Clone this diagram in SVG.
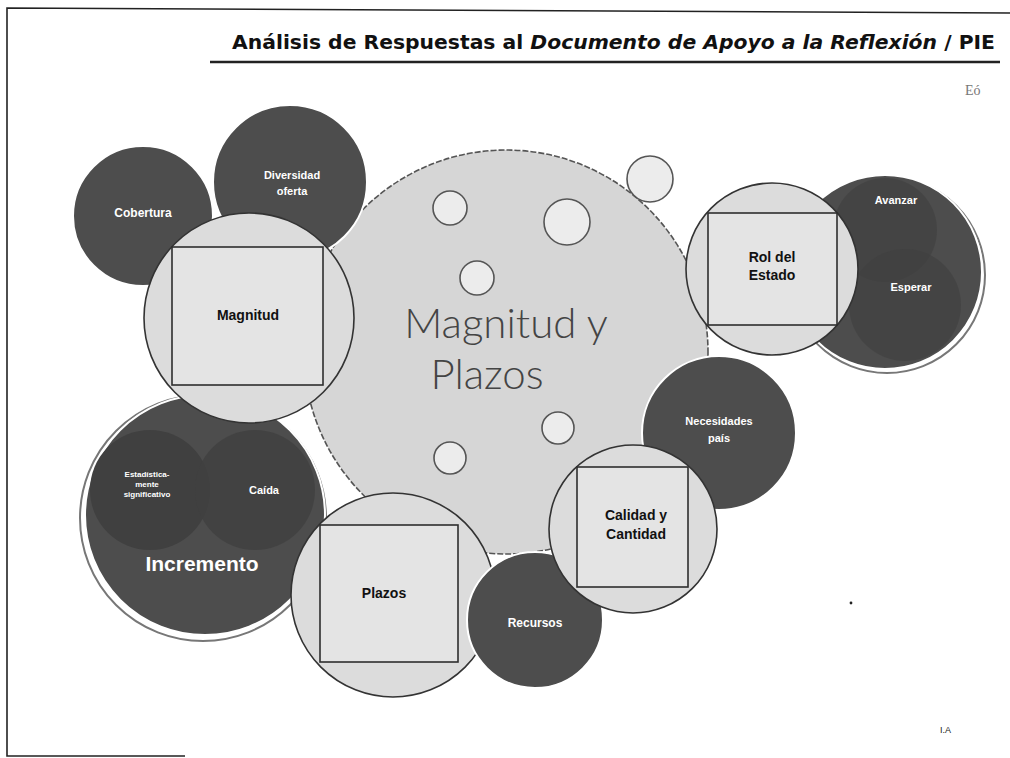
<svg xmlns="http://www.w3.org/2000/svg" width="1010" height="758" viewBox="0 0 1010 758">
<style>
.dark{fill:#4d4d4d;stroke:#ffffff;stroke-width:2}
.inner{fill:#404040;stroke:none}
.light{fill:#dcdcdc;stroke:#333;stroke-width:1.6}
.sq{fill:#e4e4e4;stroke:#2e2e2e;stroke-width:1.6}
.bub{fill:#ececec;stroke:#555;stroke-width:1.6}
.wl{font-family:"Liberation Sans",Arial,sans-serif;font-weight:bold;fill:#fff;text-anchor:middle}
.bl{font-family:"Liberation Sans",Arial,sans-serif;font-weight:bold;fill:#111;text-anchor:middle;font-size:14px}
.shadow{fill:none;stroke:#777;stroke-width:2}
</style>
<rect width="1010" height="758" fill="#fff"/>
<g id="frame" fill="none" stroke="#222">
<polyline points="1010,13 7,8 7,756 185,756" stroke-width="1.6"/>
<line x1="210" y1="62" x2="1000" y2="62" stroke-width="2.6"/>
</g>
<g id="header">
<text x="232" y="49" font-family="'DejaVu Sans',Verdana,sans-serif" font-weight="bold" font-size="19" fill="#111" textLength="763" lengthAdjust="spacingAndGlyphs">Análisis de Respuestas al <tspan font-style="italic">Documento de Apoyo a la Reflexión</tspan> / PIE</text>
<text x="965" y="95" font-family="'Liberation Serif',serif" font-size="14" fill="#777">Eó</text>
<text x="940" y="733" font-family="'Liberation Sans',Arial,sans-serif" font-size="9" fill="#222">I.A</text>
<circle cx="851" cy="603" r="1.4" fill="#222"/>
</g>
<g id="center">
<circle cx="506" cy="352" r="202" fill="#d6d6d6" stroke="#555" stroke-width="1.6" stroke-dasharray="6 2"/>
<circle class="bub" cx="450" cy="208" r="17"/>
<circle class="bub" cx="567" cy="222" r="23"/>
<circle class="bub" cx="477" cy="278" r="17"/>
<circle class="bub" cx="650" cy="179" r="23"/>
<circle class="bub" cx="558" cy="428" r="16"/>
<circle class="bub" cx="450" cy="458" r="16"/>
<text x="506" y="338" font-family="Lato,'Open Sans',sans-serif" font-weight="300" font-size="42" fill="#444" text-anchor="middle">Magnitud y</text>
<text x="487" y="389" font-family="Lato,'Open Sans',sans-serif" font-weight="300" font-size="42" fill="#444" text-anchor="middle">Plazos</text>
</g>
<g id="cobertura">
<circle class="dark" cx="143" cy="216" r="70"/>
<text class="wl" x="143" y="217" font-size="12">Cobertura</text>
</g>
<g id="diversidad">
<circle class="dark" cx="290" cy="182" r="77"/>
<text class="wl" x="292" y="179" font-size="11">Diversidad</text>
<text class="wl" x="292" y="195" font-size="11">oferta</text>
</g>
<g id="incremento">
<circle class="shadow" cx="203" cy="518" r="123"/>
<circle class="dark" cx="205" cy="515" r="120"/>
<circle class="inner" cx="150" cy="490" r="60"/>
<circle class="inner" cx="255" cy="490" r="60" opacity="0.8"/>
<text class="wl" x="147" y="477" font-size="8">Estadística-</text>
<text class="wl" x="147" y="487" font-size="8">mente</text>
<text class="wl" x="147" y="497" font-size="8">significativo</text>
<text class="wl" x="264" y="494" font-size="11">Caída</text>
<text class="wl" x="202" y="571" font-size="21">Incremento</text>
</g>
<g id="magnitud">
<circle class="light" cx="249" cy="318" r="105"/>
<rect class="sq" x="172" y="247" width="151" height="138"/>
<text class="bl" x="248" y="320">Magnitud</text>
</g>
<g id="avanzar">
<circle class="shadow" cx="887" cy="275" r="98"/>
<circle class="dark" cx="885" cy="272" r="97"/>
<circle class="inner" cx="885" cy="230" r="52" opacity="0.6"/>
<circle class="inner" cx="905" cy="305" r="56" opacity="0.6"/>
<text class="wl" x="896" y="204" font-size="11">Avanzar</text>
<text class="wl" x="911" y="291" font-size="11">Esperar</text>
</g>
<g id="rol">
<circle class="light" cx="772" cy="269" r="86"/>
<rect class="sq" x="708" y="213" width="129" height="112"/>
<text class="bl" x="772" y="262">Rol del</text>
<text class="bl" x="772" y="280">Estado</text>
</g>
<g id="necesidades">
<circle class="dark" cx="719" cy="433" r="77"/>
<text class="wl" x="719" y="425" font-size="11">Necesidades</text>
<text class="wl" x="719" y="442" font-size="11">país</text>
</g>
<g id="plazos">
<circle class="light" cx="393" cy="595" r="102"/>
<rect class="sq" x="320" y="525" width="138" height="137"/>
<text class="bl" x="384" y="598" font-size="13">Plazos</text>
</g>
<g id="recursos">
<circle class="dark" cx="535" cy="620" r="68"/>
<text class="wl" x="535" y="627" font-size="12">Recursos</text>
</g>
<g id="calidad">
<circle class="light" cx="633" cy="529" r="84"/>
<rect class="sq" x="577" y="467" width="111" height="120"/>
<text class="bl" x="636" y="520">Calidad y</text>
<text class="bl" x="636" y="539">Cantidad</text>
</g>
<g id="connectors"></g>
</svg>
